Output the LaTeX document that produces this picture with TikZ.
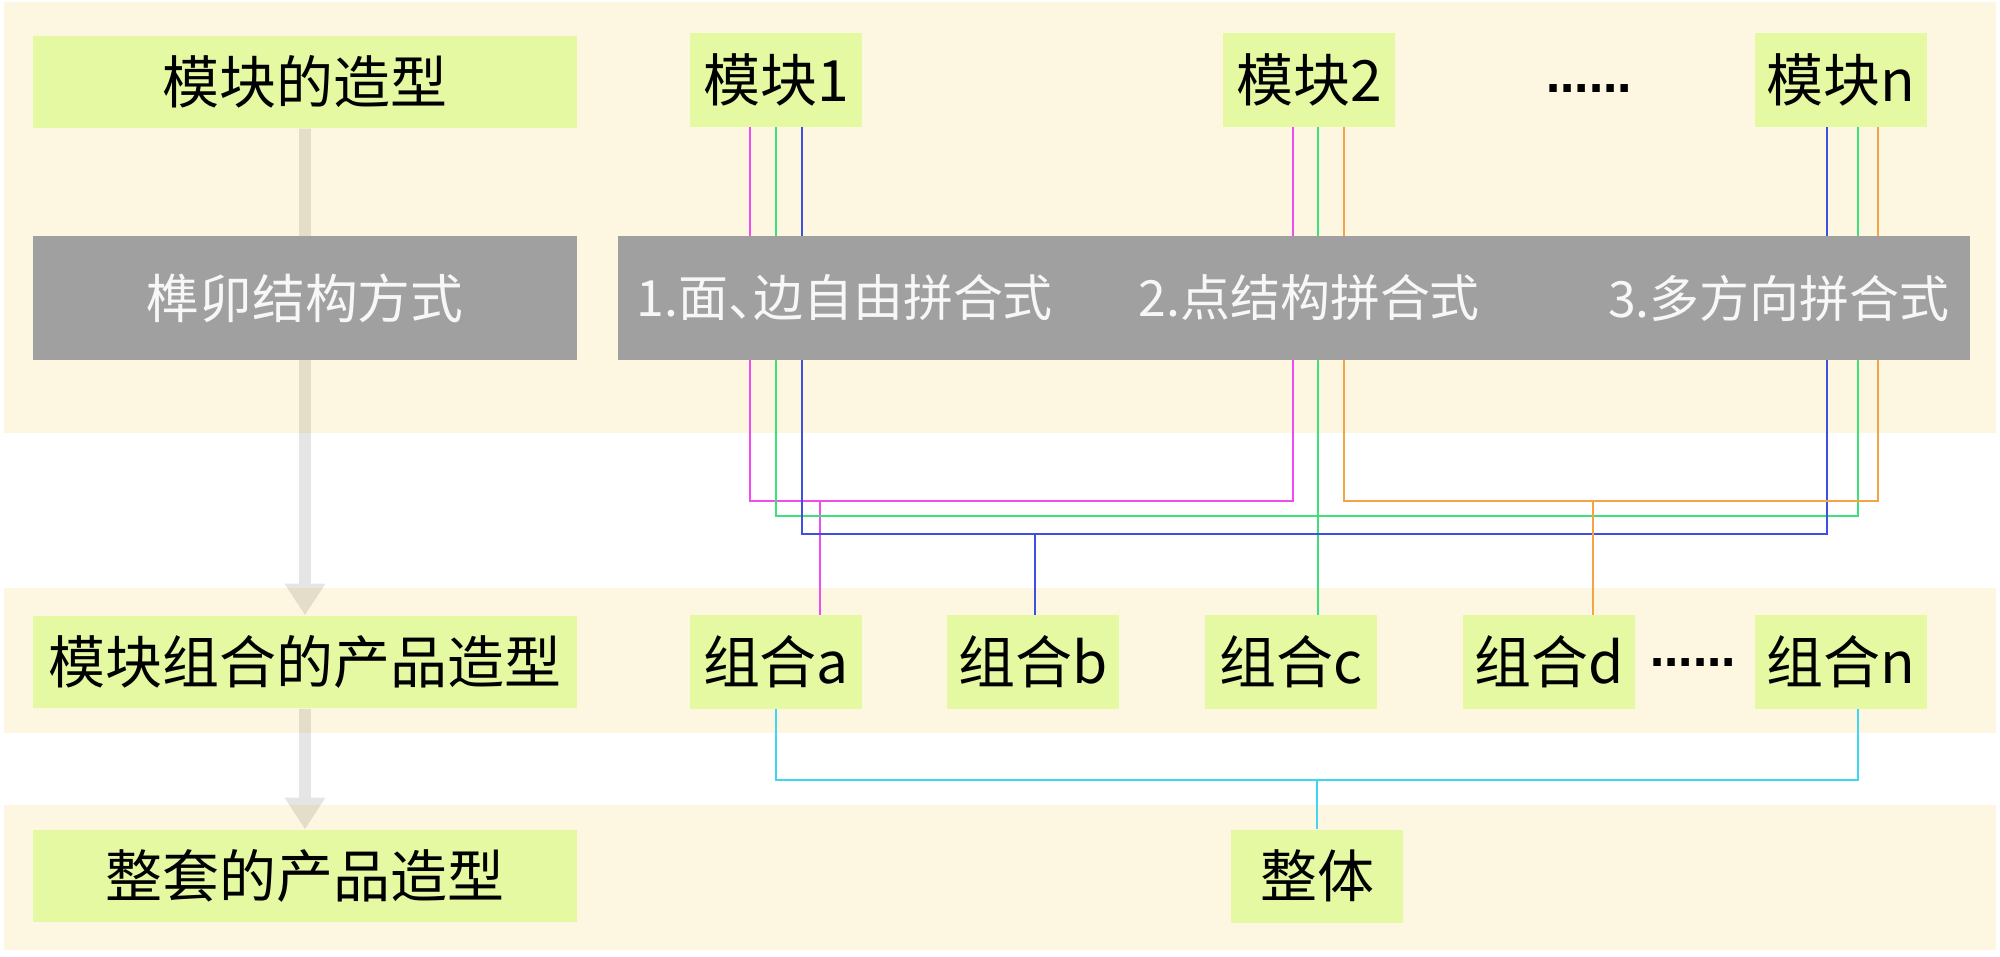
\documentclass[tikz,border=0pt]{standalone}
\usepackage{fontspec}
\newfontfamily\cjk{Noto Sans CJK SC}
\newfontfamily\dotfont{DejaVu Sans}
\usetikzlibrary{positioning,arrows.meta,backgrounds}

\definecolor{bandbg}{HTML}{FDF7E1}
\definecolor{limebox}{HTML}{E5F8A2}
\definecolor{joinbox}{HTML}{A0A0A0}
\definecolor{cmag}{HTML}{F04CF0}
\definecolor{cgreen}{HTML}{3EE07A}
\definecolor{cblue}{HTML}{3F4FE0}
\definecolor{corange}{HTML}{F5A445}
\definecolor{ccyan}{HTML}{3ED6F2}

\begin{document}
\begin{tikzpicture}[
        x=0.01cm, y=-0.01cm,
        font=\cjk\fontsize{16.2pt}{18pt}\selectfont,
        band/.style={fill=bandbg},
        lvl/.style={fill=limebox, inner sep=0pt, minimum width=5.44cm, minimum height=0.92cm},
        part/.style={fill=limebox, inner sep=0pt, minimum width=1.71cm, minimum height=0.93cm},
        graybox/.style={fill=joinbox, inner sep=0pt, minimum height=1.24cm},
        waytext/.style={text=white!97!black, inner sep=0pt, font=\cjk\fontsize{14.2pt}{16pt}\selectfont},
        more/.style={inner sep=0pt, font=\dotfont\bfseries\fontsize{12pt}{14pt}\selectfont},
        wire/.style={line width=0.7pt},
        flow/.style={-{Triangle[width=11pt,length=9pt]}, line width=3.4pt, draw=black}
    ]
    \useasboundingbox (0,0) rectangle (2000,956);

    % left column
    \node[lvl] (shape) at (305,82) {模块的造型};
    \node[lvl, graybox, minimum width=5.44cm] (tenon) at (305,298) {};
    \node[waytext, font=\cjk\fontsize{15pt}{17pt}\selectfont] (tenontext) at (tenon) {榫卯结构方式};
    \node[lvl] (combine) at (305,662) {模块组合的产品造型};
    \node[lvl] (fullset) at (305,876) {整套的产品造型};

    % modules
    \node[part] (mod1) at (776,80) {模块1};
    \node[part] (mod2) at (1309,80) {模块2};
    \node[more] (mdots) at (1589,88) {……};
    \node[part] (modn) at (1841,80) {模块n};

    % joint ways
    \node[graybox, minimum width=13.52cm] (joint) at (1294,298) {};
    \node[waytext, anchor=west] (way1) at (636,298) {1.面、\hspace{-0.5em}边自由拼合式};
    \node[waytext, anchor=west] (way2) at (1138,298) {2.点结构拼合式};
    \node[waytext, anchor=east] (way3) at (1950,298) {3.多方向拼合式};

    % combinations
    \node[part] (comA) at (776,662) {组合a};
    \node[part] (comB) at (1033,662) {组合b};
    \node[part] (comC) at (1291,662) {组合c};
    \node[part] (comD) at (1549,662) {组合d};
    \node[more] (cdots) at (1693,662) {……};
    \node[part] (comN) at (1841,662) {组合n};
    \node[part] (whole) at (1317,876) {整体};

    % bus points
    \coordinate (mbus) at (1293,501);
    \coordinate (gbus) at (1858,516);
    \coordinate (bbus) at (1827,534);
    \coordinate (obus) at (1878,501);
    \coordinate (gdrop) at (1318,516);
    \coordinate (jm) at (820,501);
    \coordinate (jb) at (1035,534);
    \coordinate (jo) at (1593,501);
    \coordinate (cbus) at (1858,780);
    \coordinate (jc) at (1317,780);

    \begin{scope}[on background layer]
        \fill[band] (4,2) rectangle (1996,433);
        \fill[band] (4,588) rectangle (1996,733);
        \fill[band] (4,805) rectangle (1996,950);

        \begin{scope}[transparency group, opacity=0.1]
            \draw[flow] (shape) -- (combine);
            \draw[flow] (combine) -- (fullset);
        \end{scope}

        \draw[wire, cmag] ([xshift=-0.26cm]mod1.south) |- (mbus) -- (mbus |- mod2.south);
        \draw[wire, cmag] (jm) -- (jm |- comA.north);
        \draw[wire, cgreen] (mod1.south) |- (gbus) -- (gbus |- modn.south);
        \draw[wire, cgreen] (gdrop |- mod2.south) -- (gdrop |- comC.north);
        \draw[wire, cblue] ([xshift=0.26cm]mod1.south) |- (bbus) -- (bbus |- modn.south);
        \draw[wire, cblue] (jb) -- (jb |- comB.north);
        \draw[wire, corange] ([xshift=0.35cm]mod2.south) |- (obus) -- (obus |- modn.south);
        \draw[wire, corange] (jo) -- (jo |- comD.north);
        \draw[wire, ccyan] (comA.south) |- (cbus) -- (cbus |- comN.south);
        \draw[wire, ccyan] (jc) -- (whole);
    \end{scope}
\end{tikzpicture}
\end{document}
